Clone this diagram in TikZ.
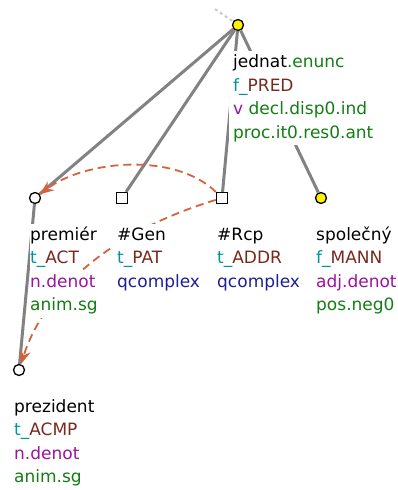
\documentclass[tikz,border=0pt]{standalone}
\usepackage{fontspec}
\setmainfont{DejaVu Sans}
\usepackage{xcolor}
\usepackage{tikz}
\usetikzlibrary{arrows.meta}

\definecolor{tealc}{RGB}{0,150,150}
\definecolor{brownc}{RGB}{120,42,30}
\definecolor{purplec}{RGB}{155,20,155}
\definecolor{greenc}{RGB}{20,125,20}
\definecolor{bluec}{RGB}{30,30,150}
\definecolor{edgec}{RGB}{130,130,130}
\definecolor{corefc}{RGB}{210,100,60}

\newlength{\rbpad}
\setlength{\rbpad}{4pt}
\newcommand{\tpfx}[1]{\textcolor{tealc}{#1}}
\newcommand{\fnct}[1]{\textcolor{brownc}{#1}}
\newcommand{\sempos}[1]{\textcolor{purplec}{#1}}
\newcommand{\gram}[1]{\textcolor{greenc}{#1}}
\newcommand{\qcx}[1]{\textcolor{bluec}{#1}}
\newcommand{\rb}[1]{{\setlength{\fboxsep}{0pt}\colorbox{white}{\kern\rbpad\strut#1}}}
\newcommand{\nodelabel}[1]{\begin{tabular}[t]{@{}l@{}}#1\end{tabular}}

\tikzset{
  tnode/.style={circle, draw, fill=white, line width=1.3pt, minimum size=11pt, inner sep=0pt},
  rootnode/.style={tnode, fill=yellow},
  hidnode/.style={rectangle, draw, fill=white, line width=1.3pt, minimum size=11pt, inner sep=0pt},
  treeedge/.style={draw=edgec, line width=3pt},
  coref/.style={draw=corefc, dash pattern=on 8pt off 5pt, line width=1.8pt, -{Stealth[length=14pt,width=11pt]}},
  lab/.style={anchor=base west, inner sep=0pt, font=\fontsize{17}{23.5}\selectfont}
}

\begin{document}
\begin{tikzpicture}[x=1pt,y=-1pt]
    \useasboundingbox (0,0) rectangle (398,490);

    % Draw the nodes
    \node[rootnode] (jednat) at (238,25) {};
    \node[tnode] (premier) at (35,198) {};
    \node[hidnode] (gen) at (122,198) {};
    \node[hidnode] (rcp) at (222,198) {};
    \node[rootnode] (spolecny) at (321,198) {};
    \node[tnode] (prezident) at (19,370) {};
    \coordinate (up) at (215,9);

    % Draw the edges
    \draw[draw=gray!45, line width=1.8pt, dash pattern=on 3pt off 3pt] (up) -- (jednat);
    \draw[treeedge] (jednat) -- (premier);
    \draw[treeedge] (jednat) -- (gen);
    \draw[treeedge] (jednat) -- (rcp);
    \draw[treeedge] (jednat) -- (spolecny);
    \draw[treeedge] (premier) -- (prezident);

    % Draw the coreference arrows
    \draw[coref] (rcp) .. controls (175,152) and (85,160) .. (premier);
    \draw[coref] (rcp) .. controls (110,232) and (45,290) .. (prezident);

    % Add labels under the nodes
    \node[lab] (jednat-l) at (229,67.5) {\nodelabel{\rb{jednat\gram{.enunc}}\\
      \rb{\tpfx{f\_}\fnct{PRED}}\\
      \rb{\sempos{v} \gram{decl.disp0.ind}}\\
      \rb{\gram{proc.it0.res0.ant}}}};
    \node[lab] (premier-l) at (30,240) {\setlength{\rbpad}{0pt}\nodelabel{\rb{premiér}\\
      \rb{\tpfx{t\_}\fnct{ACT}}\\
      \rb{\sempos{n.denot}}\\
      \rb{\gram{anim.sg}}}};
    \node[lab] (gen-l) at (113,240) {\nodelabel{\rb{\#Gen}\\
      \rb{\tpfx{t\_}\fnct{PAT}}\\
      \rb{\qcx{qcomplex}}}};
    \node[lab] (rcp-l) at (213,240) {\nodelabel{\rb{\#Rcp}\\
      \rb{\tpfx{t\_}\fnct{ADDR}}\\
      \rb{\qcx{qcomplex}}}};
    \node[lab] (spolecny-l) at (312,240) {\nodelabel{\rb{společný}\\
      \rb{\tpfx{f\_}\fnct{MANN}}\\
      \rb{\sempos{adj.denot}}\\
      \rb{\gram{pos.neg0}}}};
    \node[lab] (prezident-l) at (10,412) {\nodelabel{\rb{prezident}\\
      \rb{\tpfx{t\_}\fnct{ACMP}}\\
      \rb{\sempos{n.denot}}\\
      \rb{\gram{anim.sg}}}};
\end{tikzpicture}
\end{document}
